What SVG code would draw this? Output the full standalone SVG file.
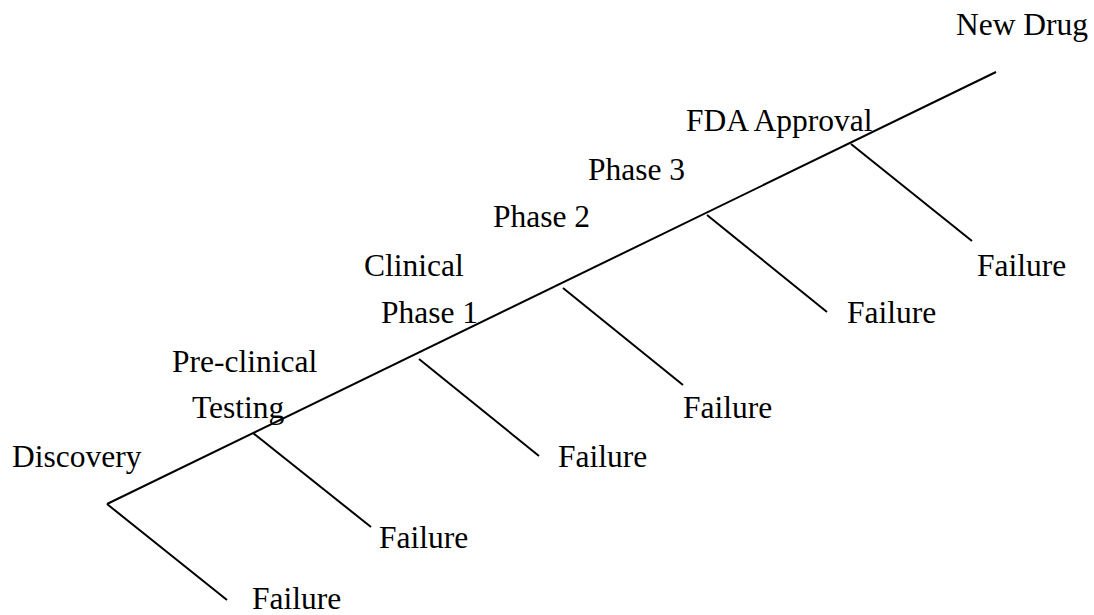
<svg xmlns="http://www.w3.org/2000/svg" width="1094" height="615" viewBox="0 0 1094 615">
<style>
.t{font-family:"Liberation Serif","Times New Roman",serif;font-size:31.5px;fill:#000}
.l{stroke:#000;stroke-width:2;fill:none;stroke-linecap:butt}
</style>
<rect width="1094" height="615" fill="#fff"/>
<g id="connectors">
<line class="l" x1="107" y1="504" x2="996" y2="72"/>
<line class="l" x1="107" y1="504" x2="227" y2="600"/>
<line class="l" x1="253" y1="433" x2="371" y2="527"/>
<line class="l" x1="419" y1="359" x2="539" y2="456"/>
<line class="l" x1="563" y1="288" x2="683" y2="385"/>
<line class="l" x1="707" y1="215" x2="827" y2="312"/>
<line class="l" x1="851" y1="144" x2="972" y2="241"/>
</g>
<g id="discovery"><text class="t" x="12" y="467">Discovery</text></g>
<g id="preclinical"><text class="t" x="172" y="372">Pre-clinical</text><text class="t" x="192" y="418">Testing</text></g>
<g id="phase1"><text class="t" x="364" y="276">Clinical</text><text class="t" x="381" y="323">Phase 1</text></g>
<g id="phase2"><text class="t" x="493" y="227">Phase 2</text></g>
<g id="phase3"><text class="t" x="588" y="180">Phase 3</text></g>
<g id="fda"><text class="t" x="686" y="131">FDA Approval</text></g>
<g id="newdrug"><text class="t" x="956" y="35">New Drug</text></g>
<g id="fail1"><text class="t" x="252" y="609">Failure</text></g>
<g id="fail2"><text class="t" x="379" y="548">Failure</text></g>
<g id="fail3"><text class="t" x="558" y="467">Failure</text></g>
<g id="fail4"><text class="t" x="683" y="418">Failure</text></g>
<g id="fail5"><text class="t" x="847" y="323">Failure</text></g>
<g id="fail6"><text class="t" x="977" y="276">Failure</text></g>
</svg>
